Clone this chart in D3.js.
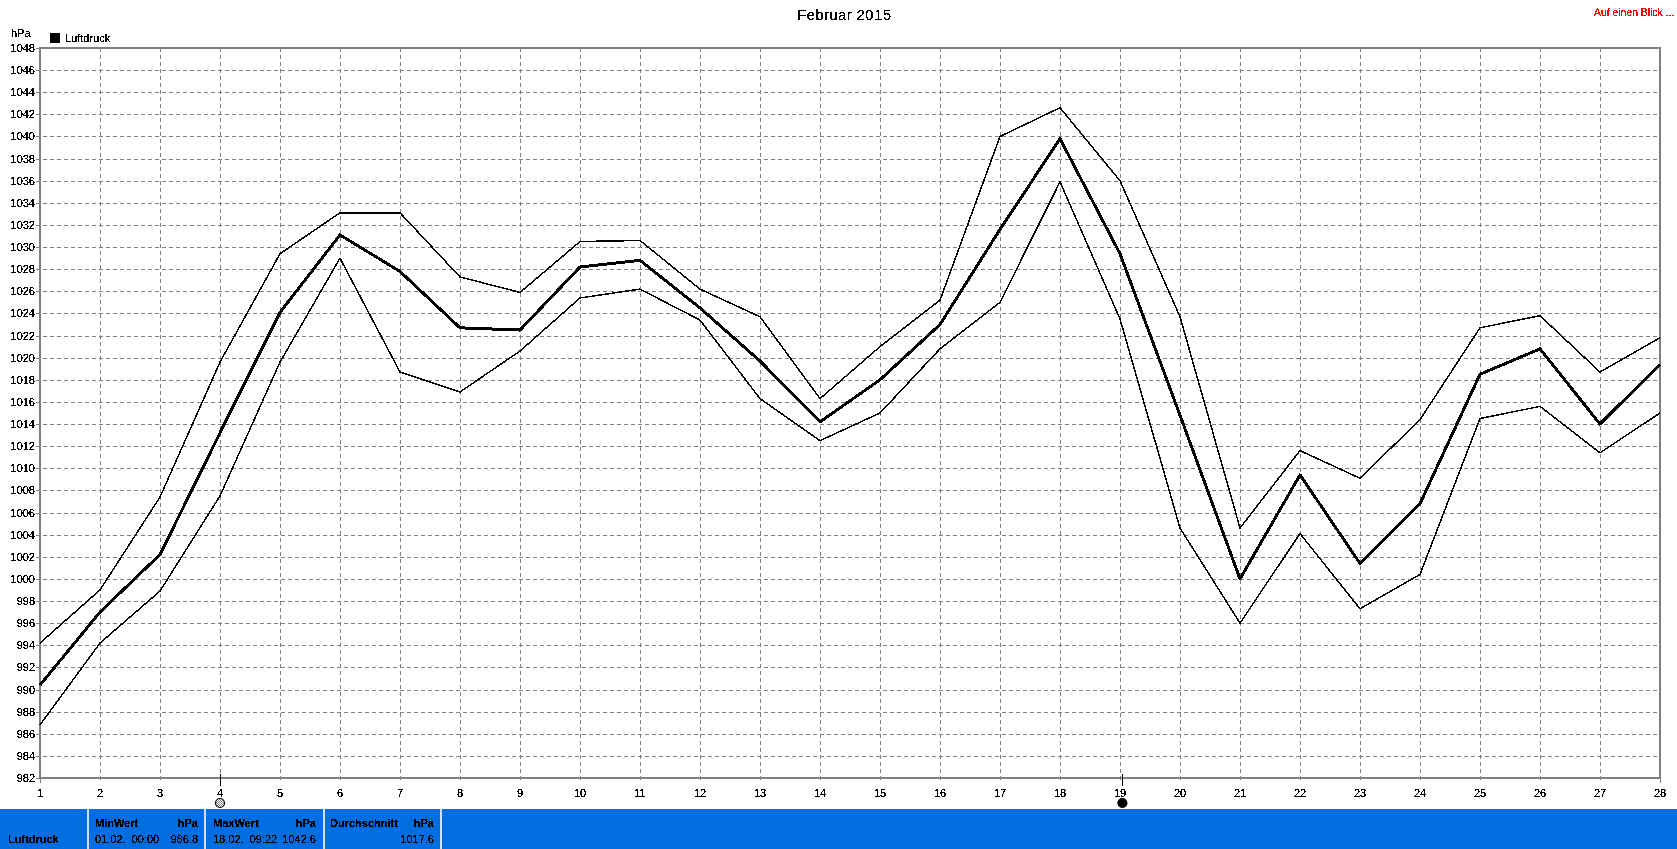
<!DOCTYPE html>
<html><head><meta charset="utf-8">
<script src="https://cdn.jsdelivr.net/npm/d3@7/dist/d3.min.js"></script>
<style>html,body{margin:0;padding:0;background:#fff;overflow:hidden}svg{display:block}text{font-family:"Liberation Sans",Arial,sans-serif;font-size:11px;fill:#000}</style>
</head><body><svg id="c" width="1677" height="849"></svg>
<script>
const days=d3.range(1,29);
const yTicks=d3.range(982,1050,2);
const upper=[994.2,999,1007.4,1019.6,1029.4,1033.1,1033.1,1027.3,1025.9,1030.5,1030.6,1026.2,1023.7,1016.3,1021,1025.2,1040,1042.6,1036,1023.7,1004.6,1011.6,1009.1,1014.4,1022.7,1023.8,1018.7,1021.8];
const mean=[990.4,997,1002.2,1013.2,1024.1,1031.1,1027.8,1022.7,1022.5,1028.2,1028.8,1024.5,1019.7,1014.2,1018,1023,1031.6,1039.8,1029.4,1014.8,1000,1009.4,1001.4,1006.8,1018.5,1020.8,1014,1019.4];
const lower=[986.8,994.2,998.9,1007.5,1019.6,1029,1018.7,1016.9,1020.6,1025.4,1026.2,1023.4,1016.3,1012.5,1015,1020.8,1025,1035.9,1023.5,1004.6,996,1004.1,997.3,1000.4,1014.5,1015.6,1011.4,1015];
const title="Februar 2015", link="Auf einen Blick ...", unit="hPa", seriesName="Luftdruck";
const panels=[["MinWert","hPa","01.02.  00:00","986.8"],["MaxWert","hPa","18.02.  09:22","1042.6"],["Durchschnitt","hPa","","1017.6"]];
const markDays=[4,19.04];

const svg=d3.select("#c");
const defs=svg.append("defs");
const f=defs.append("filter").attr("id","alias").attr("x","-5%").attr("y","-20%").attr("width","110%").attr("height","140%");
f.append("feComponentTransfer").append("feFuncA").attr("type","discrete").attr("tableValues","0 1 1");
const pat=defs.append("pattern").attr("id","hatch").attr("width",2).attr("height",2).attr("patternUnits","userSpaceOnUse");
pat.append("rect").attr("width",2).attr("height",2).attr("fill","#fff");
pat.append("rect").attr("width",1).attr("height",1).attr("fill","#888");
pat.append("rect").attr("x",1).attr("y",1).attr("width",1).attr("height",1).attr("fill","#888");

const x=d3.scaleLinear().domain([1,28]).range([40,1660]);
const y=d3.scaleLinear().domain([982,1048]).range([778,48]);
const grey="#808080";
const g=svg.append("g").attr("shape-rendering","crispEdges");
g.selectAll(".gy").data(yTicks.slice(1,-1)).join("line")
 .attr("x1",36).attr("x2",1660).attr("y1",d=>Math.round(y(d))+.5).attr("y2",d=>Math.round(y(d))+.5)
 .attr("stroke",grey).attr("stroke-dasharray","4 3");
g.selectAll(".gx").data(days.slice(1,-1)).join("line")
 .attr("x1",d=>x(d)+.5).attr("x2",d=>x(d)+.5).attr("y1",48).attr("y2",783)
 .attr("stroke",grey).attr("stroke-dasharray","4 3");
g.append("rect").attr("x",40).attr("y",48).attr("width",1620).attr("height",730)
 .attr("fill","none").attr("stroke",grey).attr("stroke-width",2);
g.append("line").attr("x1",36).attr("x2",40).attr("y1",48.5).attr("y2",48.5).attr("stroke",grey);
g.append("line").attr("x1",36).attr("x2",40).attr("y1",778.5).attr("y2",778.5).attr("stroke",grey);
g.append("line").attr("x1",40.5).attr("x2",40.5).attr("y1",778).attr("y2",783).attr("stroke",grey);
g.append("line").attr("x1",1660.5).attr("x2",1660.5).attr("y1",778).attr("y2",783).attr("stroke",grey);

const txt=svg.append("g").attr("filter","url(#alias)");
txt.selectAll(".yl").data(yTicks).join("text").attr("x",35).attr("y",d=>Math.round(y(d))+4).attr("text-anchor","end").text(d=>d);
txt.selectAll(".xl").data(days).join("text").attr("x",d=>x(d)).attr("y",797).attr("text-anchor","middle").text(d=>d);

const line=d3.line().x((d,i)=>x(days[i])).y(d=>y(d));
[[upper,1.5],[lower,1.5],[mean,3]].forEach(([s,w])=>{
 svg.append("path").attr("d",line(s)).attr("fill","none").attr("stroke","#000").attr("stroke-width",w).attr("stroke-linejoin","round").attr("shape-rendering","crispEdges");
});

txt.append("text").attr("x",844).attr("y",20).attr("text-anchor","middle").style("font-size","15px").attr("textLength",94).attr("lengthAdjust","spacing").text(title);
txt.append("text").attr("x",1594).attr("y",16).style("fill","#f00").style("font-size","10.4px").text(link);
txt.append("text").attr("x",11).attr("y",37).text(unit);
svg.append("rect").attr("x",50).attr("y",33).attr("width",10).attr("height",10).attr("fill","#000");
txt.append("text").attr("x",65).attr("y",42).text(seriesName);

markDays.forEach((d,i)=>{
 svg.append("line").attr("x1",Math.round(x(d))+.5).attr("x2",Math.round(x(d))+.5).attr("y1",774).attr("y2",786).attr("stroke","#000").attr("shape-rendering","crispEdges");
 svg.append("circle").attr("cx",x(d)).attr("cy",803).attr("r",4.5).attr("fill",i?"#000":"url(#hatch)").attr("stroke","#000").attr("stroke-width",1.2);
});

svg.append("rect").attr("x",0).attr("y",809).attr("width",1677).attr("height",40).attr("fill","#006de0");
const seps=[87,88,204,205,323,324,440,441];
svg.selectAll(".sep").data(seps).join("rect").attr("x",d=>d).attr("y",809).attr("width",1).attr("height",40).attr("fill","#cfe0f2");
const wtxt=svg.append("g").attr("filter","url(#alias)");
const wt=(t,xx,yy,a,b)=>wtxt.append("text").attr("x",xx).attr("y",yy).attr("text-anchor",a||"start").style("font-weight",b?"bold":"normal").style("white-space","pre").attr("xml:space","preserve").text(t);
wt(seriesName,8,843,"start",true);
const px=[[95,198],[213,316],[330,434]];
panels.forEach((p,i)=>{
 wt(p[0],px[i][0],827,"start",true);
 wt(p[1],px[i][1],827,"end",true);
 if(p[2]) wt(p[2],px[i][0],843);
 wt(p[3],px[i][1],843,"end");
});
</script></body></html>
